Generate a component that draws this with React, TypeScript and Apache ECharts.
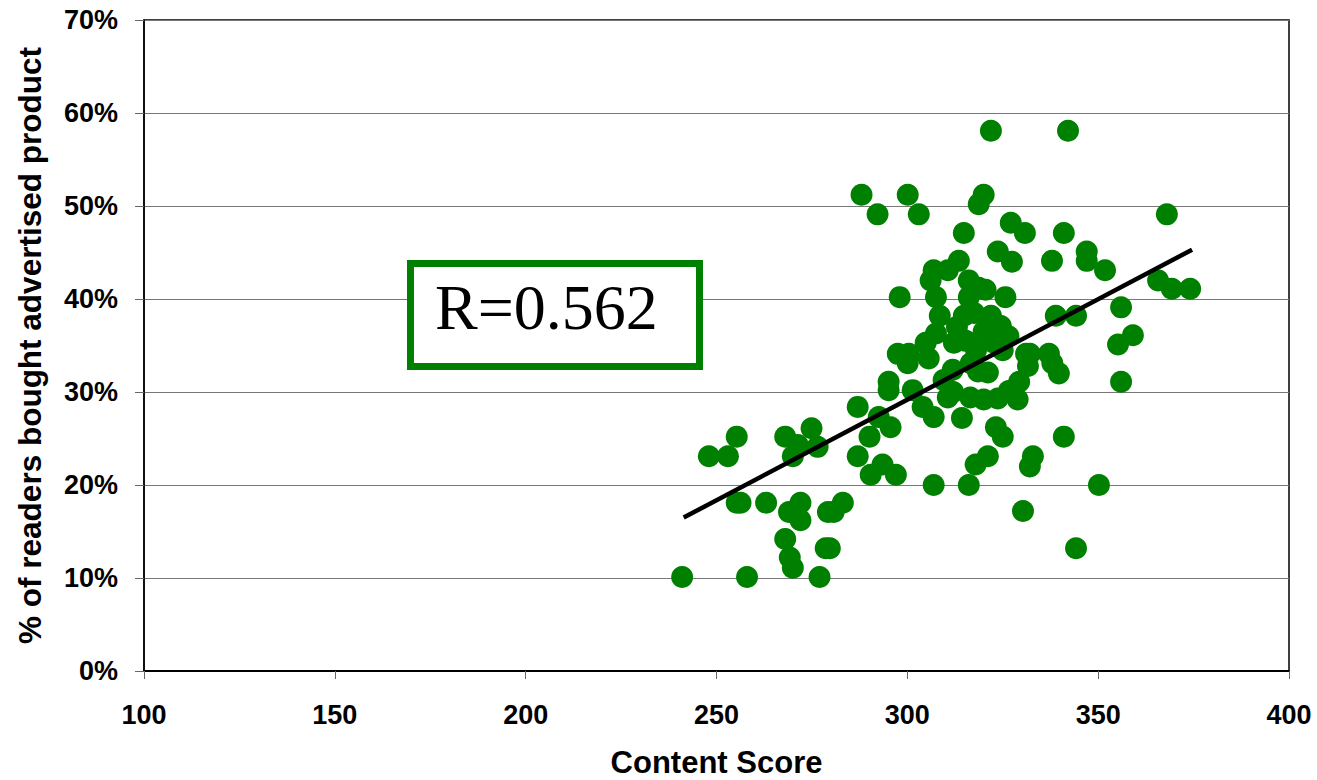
import React, { useEffect, useRef } from "react";
import * as echarts from "echarts";

// Content score (x) and % of readers who bought the advertised product (y, in %)
const contentScores: number[] = [
  241, 248, 253, 255.3, 255.3, 256.3, 258, 263, 268, 268, 269, 269.2, 270, 270, 271.3, 272, 272, 274.9, 276.5, 277,
  278.6, 279.7, 279.2, 280.7, 283.1, 287, 287, 288, 290.1, 290.4, 292.2, 292.5, 293.5, 295.1, 295.1, 295.6, 297, 297.5,
  298, 300.1, 300.4, 300.1, 301.4, 303, 304, 304.8, 305.6, 306.1, 306.9, 306.9, 306.9, 307.5, 307.5, 308.5, 309.5,
  310.6, 310.6, 311.9, 312.2, 313.5, 314.3, 314.8, 314.8, 315.3, 316.1, 316.1, 316.1, 316.6, 317.9, 318.7, 318.7, 320,
  320, 321.1, 321.1, 321.9, 321.9, 322.7, 323.2, 323.7, 323.7, 324.5, 325, 325.7, 326.6, 327.1, 327.4, 328.9, 329.3,
  330.3, 330.8, 331.1, 331.6, 332.1, 332.1, 332.9, 337.1, 337.9, 338, 338.9, 339.7, 341, 341, 342.1, 344.2, 344.2, 347,
  347, 350.2, 351.8, 355.2, 356, 356, 359.1, 365.7, 368, 369.3, 374.1,
  312, 318.5, 320, 325, 326.5, 318, 316.5, 320.5, 317.5, 313,
];
const boughtPct: number[] = [
  10.1, 23.1, 23.1, 25.2, 18.1, 18.1, 10.1, 18.1, 25.2, 14.2, 17.1, 12.2, 11.1, 23.1, 24.3, 18.1, 16.2, 26.1, 24.1, 10.1,
  13.2, 13.2, 17.1, 17.1, 18.1, 28.4, 23.1, 51.2, 25.2, 21.1, 49.1, 27.3, 22.2, 31.1, 30.2, 26.2, 21.1, 34.1,
  40.2, 51.2, 34.1, 33.1, 30.2, 49.1, 28.4, 35.3, 33.6, 42, 43.1, 27.3, 20, 36.3, 40.2, 38.2, 31.3,
  43.1, 29.4, 32.4, 35.3, 44.1, 27.2, 47.1, 38.2, 35.5, 42, 40.2, 20, 33.1, 22.2, 50.2, 41.2, 51.2,
  29.2, 32.1, 23.1, 58.1, 38.2, 35.3, 26.2, 45.1, 29.3, 37.1, 25.2, 40.2, 30.1, 48.2, 44, 29.2, 31.1,
  17.2, 47.1, 34.1, 32.8, 34.1, 22, 23.1, 34.1, 44.1, 33.1, 38.2, 32, 25.2, 47.1, 58.1, 38.2, 13.2, 45.1,
  44.1, 20, 43.1, 35.1, 39.1, 31.1, 36.1, 42, 49.1, 41.1, 41.1,
  30.0, 32.2, 36.5, 34.5, 36, 34.5, 29.4, 41, 38.5, 37,
];

// Trend line end points (x, y%)
const trendX: number[] = [241.4, 374.6];
const trendY: number[] = [16.5, 45.3];

const xTicks = { min: 100, max: 400, interval: 50 };
const yTicks = { min: 0, max: 70, interval: 10 };
const rLabel = "R=0.562";

export default function App() {
  const ref = useRef<HTMLDivElement>(null);

  useEffect(() => {
    if (!ref.current) return;
    const chart = echarts.init(ref.current, null, { renderer: "svg" });
    const points = contentScores.map((x, i) => [x, boughtPct[i]]);
    const trend = trendX.map((x, i) => [x, trendY[i]]);
    const sans = "Liberation Sans, Arial, sans-serif";
    chart.setOption({
      animation: false,
      backgroundColor: "#ffffff",
      grid: {
        left: 144,
        top: 20,
        right: 28,
        bottom: 109,
        outerBoundsMode: "none",
        containLabel: false,
        show: true,
        borderColor: "#000000",
        borderWidth: 1.5,
        backgroundColor: "transparent",
      },
      xAxis: {
        type: "value",
        min: xTicks.min,
        max: xTicks.max,
        interval: xTicks.interval,
        name: "Content Score",
        nameLocation: "middle",
        nameGap: 76,
        nameTextStyle: { fontFamily: sans, fontWeight: "bold", fontSize: 31, color: "#000" },
        axisLine: { show: true, lineStyle: { color: "#000", width: 2 } },
        axisTick: { show: true, inside: false, length: 8, lineStyle: { color: "#666", width: 1 } },
        axisLabel: { fontFamily: sans, fontWeight: "bold", fontSize: 27, color: "#000", margin: 30 },
        splitLine: { show: false },
      },
      yAxis: {
        type: "value",
        min: yTicks.min,
        max: yTicks.max,
        interval: yTicks.interval,
        name: "% of readers bought advertised product",
        nameLocation: "middle",
        nameGap: 98,
        nameRotate: 90,
        nameTextStyle: { fontFamily: sans, fontWeight: "bold", fontSize: 31.5, color: "#000" },
        axisLine: { show: true, lineStyle: { color: "#000", width: 1.5 } },
        axisTick: { show: true, inside: false, length: 9, lineStyle: { color: "#666", width: 1 } },
        axisLabel: {
          fontFamily: sans,
          fontWeight: "bold",
          fontSize: 27,
          color: "#000",
          margin: 26,
          formatter: "{value}%",
        },
        splitLine: { show: true, lineStyle: { color: "#777", width: 1 } },
      },
      series: [
        {
          type: "scatter",
          data: points,
          symbol: "circle",
          symbolSize: 22,
          itemStyle: { color: "#008000", opacity: 1 },
          z: 2,
        },
        {
          type: "line",
          data: trend,
          symbol: "none",
          lineStyle: { color: "#000", width: 4.5 },
          z: 3,
        },
      ],
      graphic: [
        {
          type: "rect",
          shape: { x: 410.5, y: 263.5, width: 289, height: 103 },
          style: { fill: "#ffffff", stroke: "#008000", lineWidth: 7 },
          z: 10,
        },
        {
          type: "text",
          x: 435,
          y: 339,
          style: {
            text: rLabel,
            fontFamily: "Liberation Serif, Times New Roman, serif",
            fontSize: 64,
            fill: "#000",
            textBaseline: "alphabetic",
            textVerticalAlign: "bottom",
          },
          z: 11,
        },
      ],
    });
    return () => chart.dispose();
  }, []);

  return (
    <div
      ref={ref}
      style={{ position: "fixed", left: 0, top: 0, width: 1317, height: 780, background: "#fff" }}
    />
  );
}
